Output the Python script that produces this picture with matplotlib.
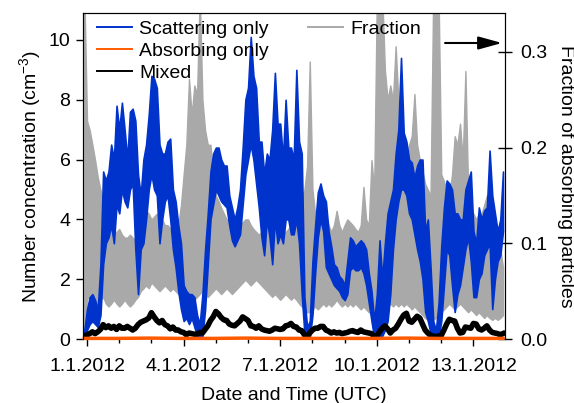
import matplotlib
matplotlib.use('Agg')
import matplotlib.pyplot as plt
import matplotlib.dates as mdates
import pandas as pd
from matplotlib.lines import Line2D

# every 2 h from 31.12.2011 22:00; upper / lower edge of the noisy traces
scattering_hi = [0.3, 1.0, 1.4, 1.5, 1.3, 1.0, 2.5, 5.6, 5.3, 5.6,
                 6.5, 6.0, 7.8, 7.0, 7.9, 7.0, 6.0, 7.6, 7.7, 7.3,
                 5.5, 4.8, 6.0, 6.5, 7.5, 8.8, 8.7, 8.4, 6.5, 6.2,
                 6.2, 6.6, 6.7, 5.0, 4.6, 3.8, 3.2, 1.8, 1.6, 1.5,
                 1.5, 1.4, 0.8, 0.5, 1.5, 3.0, 4.2, 5.6, 6.2, 6.4,
                 6.4, 6.0, 5.8, 5.8, 4.8, 4.4, 4.0, 4.4, 5.0, 6.4,
                 8.0, 8.4, 10.1, 8.8, 8.4, 6.6, 6.6, 5.5, 6.2, 6.0,
                 7.0, 8.9, 7.2, 7.2, 6.0, 8.0, 6.4, 6.4, 6.0, 9.0,
                 6.6, 6.2, 1.4, 0.4, 0.6, 2.6, 3.8, 4.9, 5.2, 4.8,
                 4.6, 3.6, 3.1, 2.5, 2.4, 2.1, 2.0, 1.8, 2.6, 3.4,
                 3.3, 3.1, 3.2, 3.3, 3.2, 3.0, 2.2, 1.6, 0.6, 1.5,
                 3.3, 2.0, 3.2, 4.2, 4.6, 5.0, 6.2, 7.0, 9.4, 6.9,
                 6.6, 6.0, 5.9, 5.4, 5.8, 6.0, 6.0, 3.6, 4.0, 2.4,
                 0.6, 0.3, 1.2, 3.1, 4.4, 5.3, 5.2, 5.0, 4.2, 4.2,
                 4.0, 4.0, 5.0, 5.3, 5.6, 3.6, 3.2, 4.4, 4.0, 4.3,
                 4.4, 6.3, 4.8, 4.2, 3.6, 4.0, 5.6]
scattering_lo = [0.0, 0.3, 0.5, 0.6, 0.5, 0.4, 0.8, 2.5, 3.2, 3.4,
                 3.8, 3.2, 4.5, 4.2, 5.0, 4.6, 4.4, 5.0, 5.2, 3.0,
                 1.5, 3.0, 3.2, 4.0, 5.0, 5.5, 5.0, 4.8, 3.2, 4.0,
                 4.6, 4.8, 4.0, 3.0, 2.4, 1.6, 1.0, 0.6, 0.7, 0.5,
                 0.7, 0.4, 0.1, 0.05, 0.1, 1.0, 2.5, 4.0, 4.5, 5.0,
                 4.8, 4.6, 4.5, 4.4, 3.8, 3.3, 3.1, 3.3, 3.5, 4.5,
                 5.5, 6.0, 6.5, 6.0, 5.2, 4.4, 3.4, 2.8, 4.0, 3.4,
                 2.5, 4.0, 3.2, 3.5, 3.2, 4.0, 4.0, 3.5, 3.5, 4.0,
                 3.2, 1.5, 0.2, 0.05, 0.05, 0.8, 2.2, 3.4, 4.0, 3.6,
                 2.4, 2.2, 2.0, 1.8, 1.7, 1.6, 1.4, 1.3, 1.5, 2.3,
                 2.4, 2.3, 2.3, 2.4, 2.2, 1.8, 1.2, 0.6, 0.05, 0.05,
                 0.1, 0.1, 0.3, 0.6, 1.5, 3.0, 4.0, 4.6, 5.0, 5.0,
                 4.8, 4.2, 4.0, 3.5, 3.0, 2.6, 2.0, 0.9, 0.6, 0.2,
                 0.05, 0.05, 0.05, 0.6, 1.8, 3.0, 2.8, 1.8, 0.9, 1.5,
                 1.8, 2.4, 3.0, 3.4, 2.6, 1.4, 1.4, 2.0, 2.2, 2.8,
                 3.0, 3.2, 1.0, 2.0, 2.6, 2.8, 3.6]

mixed = [0.10, 0.14, 0.18, 0.24, 0.18, 0.24, 0.32, 0.48, 0.38, 0.44,
         0.36, 0.42, 0.32, 0.44, 0.36, 0.36, 0.42, 0.36, 0.30, 0.36,
         0.48, 0.56, 0.60, 0.64, 0.70, 0.88, 0.74, 0.62, 0.54, 0.62,
         0.48, 0.44, 0.34, 0.40, 0.30, 0.30, 0.24, 0.22, 0.14, 0.20,
         0.18, 0.16, 0.16, 0.22, 0.20, 0.32, 0.44, 0.62, 0.74, 0.92,
         0.84, 0.72, 0.64, 0.62, 0.50, 0.46, 0.44, 0.52, 0.60, 0.74,
         0.68, 0.62, 0.44, 0.42, 0.36, 0.44, 0.34, 0.30, 0.28, 0.26,
         0.30, 0.36, 0.34, 0.32, 0.34, 0.44, 0.46, 0.52, 0.42, 0.40,
         0.30, 0.28, 0.14, 0.08, 0.20, 0.30, 0.36, 0.36, 0.42, 0.42,
         0.30, 0.26, 0.20, 0.24, 0.20, 0.22, 0.18, 0.20, 0.22, 0.26,
         0.28, 0.24, 0.22, 0.30, 0.24, 0.22, 0.20, 0.18, 0.08, 0.10,
         0.24, 0.36, 0.44, 0.34, 0.20, 0.30, 0.36, 0.50, 0.66, 0.80,
         0.86, 0.60, 0.56, 0.66, 0.76, 0.70, 0.50, 0.30, 0.20, 0.12,
         0.10, 0.08, 0.10, 0.12, 0.30, 0.50, 0.66, 0.62, 0.60, 0.36,
         0.20, 0.22, 0.40, 0.38, 0.36, 0.52, 0.50, 0.34, 0.30, 0.36,
         0.44, 0.30, 0.22, 0.20, 0.18, 0.14, 0.18]

fraction_hi = [0.36, 0.228, 0.218, 0.203, 0.187, 0.169, 0.156, 0.144, 0.131, 0.119,
               0.112, 0.109, 0.112, 0.115, 0.109, 0.106, 0.106, 0.109, 0.106, 0.103,
               0.112, 0.125, 0.134, 0.134, 0.131, 0.125, 0.128, 0.131, 0.128, 0.125,
               0.119, 0.119, 0.115, 0.112, 0.112, 0.119, 0.140, 0.172, 0.203, 0.272,
               0.234, 0.265, 0.256, 0.36, 0.250, 0.218, 0.203, 0.203, 0.172, 0.150,
               0.144, 0.137, 0.131, 0.125, 0.125, 0.119, 0.119, 0.115, 0.119, 0.122,
               0.125, 0.125, 0.119, 0.115, 0.112, 0.109, 0.112, 0.112, 0.115, 0.119,
               0.115, 0.115, 0.112, 0.109, 0.109, 0.112, 0.115, 0.119, 0.125, 0.131,
               0.140, 0.150, 0.156, 0.181, 0.290, 0.156, 0.131, 0.125, 0.134, 0.137,
               0.131, 0.119, 0.112, 0.119, 0.134, 0.119, 0.112, 0.119, 0.125, 0.122,
               0.119, 0.115, 0.112, 0.119, 0.159, 0.125, 0.119, 0.187, 0.156, 0.36,
               0.36, 0.36, 0.281, 0.250, 0.265, 0.250, 0.306, 0.250, 0.234, 0.203,
               0.187, 0.203, 0.212, 0.256, 0.203, 0.187, 0.175, 0.162, 0.156, 0.150,
               0.36, 0.36, 0.36, 0.172, 0.165, 0.156, 0.150, 0.172, 0.212, 0.203,
               0.225, 0.187, 0.280, 0.156, 0.134, 0.131, 0.125, 0.131, 0.131, 0.140,
               0.150, 0.144, 0.140, 0.125, 0.112, 0.094, 0.075]
fraction_lo = [0.0, 0.044, 0.041, 0.044, 0.041, 0.037, 0.041, 0.044, 0.037, 0.034,
               0.037, 0.041, 0.037, 0.034, 0.037, 0.041, 0.037, 0.034, 0.037, 0.041,
               0.044, 0.050, 0.053, 0.056, 0.053, 0.059, 0.056, 0.053, 0.050, 0.053,
               0.056, 0.053, 0.050, 0.053, 0.050, 0.047, 0.044, 0.047, 0.044, 0.047,
               0.044, 0.041, 0.044, 0.047, 0.050, 0.047, 0.044, 0.047, 0.050, 0.053,
               0.050, 0.047, 0.050, 0.053, 0.050, 0.047, 0.050, 0.053, 0.056, 0.059,
               0.062, 0.059, 0.056, 0.059, 0.062, 0.059, 0.056, 0.053, 0.050, 0.047,
               0.044, 0.047, 0.044, 0.041, 0.044, 0.047, 0.044, 0.041, 0.044, 0.041,
               0.037, 0.034, 0.031, 0.028, 0.028, 0.031, 0.034, 0.031, 0.034, 0.037,
               0.034, 0.037, 0.034, 0.037, 0.041, 0.037, 0.034, 0.037, 0.034, 0.037,
               0.034, 0.037, 0.034, 0.031, 0.034, 0.031, 0.028, 0.028, 0.025, 0.028,
               0.031, 0.034, 0.031, 0.034, 0.037, 0.034, 0.037, 0.034, 0.037, 0.034,
               0.037, 0.034, 0.031, 0.034, 0.031, 0.028, 0.025, 0.022, 0.020, 0.020,
               0.020, 0.022, 0.025, 0.028, 0.031, 0.034, 0.037, 0.034, 0.031, 0.034,
               0.037, 0.034, 0.031, 0.028, 0.031, 0.028, 0.025, 0.028, 0.025, 0.022,
               0.025, 0.022, 0.020, 0.022, 0.020, 0.022, 0.025]

# daily values, same start
absorbing = [0.02, 0.02, 0.03, 0.02, 0.02, 0.03, 0.02, 0.02, 0.02, 0.02, 0.03, 0.02, 0.02, 0.02]

left_ticks = [0, 2, 4, 6, 8, 10]
right_ticks = [0.0, 0.1, 0.2, 0.3]

plt.rcParams['font.family'] = ['Liberation Sans', 'DejaVu Sans']
plt.rcParams['font.size'] = 14
plt.rcParams['mathtext.fontset'] = 'custom'
plt.rcParams['mathtext.rm'] = 'Liberation Sans'
plt.rcParams['mathtext.default'] = 'regular'

times = pd.date_range('2011-12-31 22:00', periods=len(scattering_hi), freq='2h')
abs_times = pd.date_range('2011-12-31 22:00', periods=len(absorbing), freq='1D')

fig = plt.figure(figsize=(5.74, 4.03), dpi=100)
ax = fig.add_axes([83 / 574, 1 - 339 / 403, 422 / 574, 326 / 403])
ax2 = ax.twinx()
ax.set_zorder(ax2.get_zorder() + 1)
ax.patch.set_visible(False)

blue, orange, grey = '#0033cc', '#ff5a00', '#a9a9a9'
ax2.fill_between(times, fraction_lo, fraction_hi, color=grey, lw=1.0)
ax.fill_between(times, scattering_lo, scattering_hi, color=blue, lw=1.2)
ax.plot(times, mixed, color='black', lw=4)
ax.plot(abs_times, absorbing, color=orange, lw=2.5, clip_on=False)

ax.set_xlim(pd.Timestamp('2011-12-31 21:00'), pd.Timestamp('2012-01-13 23:30'))
ax.set_ylim(0, 10.9)
ax2.set_ylim(0, 0.3407)

ax.set_yticks(left_ticks)
ax2.set_yticks(right_ticks)
ax2.set_yticklabels(['%.1f' % t for t in right_ticks])

ax.xaxis.set_major_locator(mdates.DayLocator(bymonthday=[1, 4, 7, 10, 13]))
ax.xaxis.set_minor_locator(mdates.DayLocator())
ax.xaxis.set_major_formatter(mdates.DateFormatter('%-d.%-m.%Y'))

for a in (ax, ax2):
    a.spines['bottom'].set_visible(False)
ax.tick_params(axis='y', direction='out', length=5, width=1, pad=4)
ax.tick_params(axis='x', which='major', direction='out', length=5, width=1, pad=9)
ax.tick_params(axis='x', which='minor', direction='out', length=3, width=1)
ax2.tick_params(axis='y', direction='inout', length=9.5, width=1, pad=6)

ax.set_xlabel('Date and Time (UTC)', labelpad=8)
ax.set_ylabel('Number concentration (cm$^{-3}$)', labelpad=4)
ax2.set_ylabel('Fraction of absorbing particles', rotation=270, va='bottom', labelpad=7)

handles = [Line2D([], [], color=blue, lw=1.4),
           Line2D([], [], color=orange, lw=1.4),
           Line2D([], [], color='black', lw=1.4)]
leg = ax.legend(handles, ['Scattering only', 'Absorbing only', 'Mixed'],
                loc='upper left', bbox_to_anchor=(0.0, 1.02), frameon=False,
                handlelength=1.8, handletextpad=0.4, labelspacing=0.23,
                borderaxespad=0.3)
ax.add_artist(leg)
ax.legend([Line2D([], [], color=grey, lw=1.4)], ['Fraction'],
          loc='upper left', bbox_to_anchor=(0.5, 1.02), frameon=False,
          handlelength=1.8, handletextpad=0.4, borderaxespad=0.3)

ax.annotate('', xy=(0.993, 0.908), xytext=(0.858, 0.908), xycoords='axes fraction',
            arrowprops=dict(arrowstyle='-|>,head_length=0.8,head_width=0.22',
                            mutation_scale=18, color='black', lw=1.5,
                            shrinkA=0, shrinkB=0))

fig.savefig('out.png', dpi=100)
